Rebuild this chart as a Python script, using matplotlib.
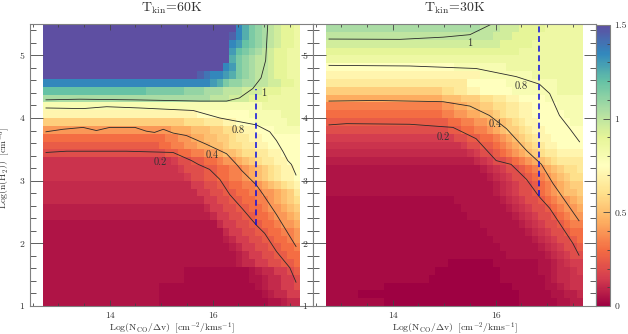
import matplotlib
matplotlib.use('Agg')
import matplotlib.pyplot as plt
from matplotlib.ticker import MultipleLocator
import numpy as np

plt.rcParams['font.family'] = 'cmr10'
plt.rcParams['mathtext.fontset'] = 'cm'
plt.rcParams['axes.unicode_minus'] = False

# One string per row, top row first. Each character is one cell, read from the colours:
# 0-9 a-u are steps of 0.05, A B C are the in-between values at the dark red end.
rows_60K = [
	"u"*30 + "rpnmlkjiih",
	"u"*29 + "trpnmlkjiih",
	"u"*29 + "rqonmlkjiih",
	"u"*29 + "qonmlkjiihh",
	"u"*29 + "pnmlkkjiihh",
	"u"*28 + "rqnmlkkjiihh",
	"u"*24 + "tsrrqpnmlkkjiihh",
	"r"*26 + "qpnmmllkkjjiih",
	"o"*16 + "n"*6 + "mmmlllkkkjjjiiihhh",
	"l"*26 + "kkkjjjiiihhhhh",
	"g"*34 + "h"*6,
	"e"*24 + "f"*8 + "g"*5 + "h"*3,
	"b"*22 + "cccdddeefffggggghh",
	"8"*20 + "999aaabbccdeefffgggg",
	"6"*18 + "6778899aabbcddeeffffff",
	"5"*17 + "566778899aabccddeefffff",
	"4"*18 + "4556677889aabccddeefff",
	"C"*20 + "34455667889abcddeeff",
	"C"*21 + "344455667789abcdeef",
	"C"*22 + "34455667789abcdeef",
	"2"*23 + "33445566778" + "9abcde",
	"2"*24 + "3344556677889abd",
	"2"*25 + "334455667789abc",
	"B"*25 + "2" + "33445566788" + "9ab",
	"B"*26 + "2" + "3344556678" + "89a",
	"1"*27 + "2" + "334455667889",
	"1"*28 + "2" + "33445566778",
	"1"*28 + "B2" + "3344556678",
	"1"*29 + "B2" + "334455667",
	"1"*30 + "B2" + "33445566",
	"1"*30 + "B2" + "23344556",
	"1"*22 + "A"*10 + "1B223345",
	"1"*22 + "A"*10 + "11B22334",
	"1"*18 + "A"*15 + "1B22334",
	"1"*18 + "A"*16 + "1B2233",
	"1"*18 + "A"*17 + "11B22",
]

rows_30K = [
	"l"*24 + "kkkjjjiiiihhhhhh",
	"k"*26 + "jjjiiiihhhhhhh",
	"j"*27 + "iiiiihhhhhhhh",
	"i"*30 + "h"*10,
	"h"*40,
	"f"*20 + "g"*8 + "h"*12,
	"e"*24 + "g"*8 + "h"*8,
	"d"*22 + "f"*6 + "g"*8 + "h"*4,
	"b"*18 + "ccddeefffff" + "g"*7 + "hhhh",
	"9"*18 + "aaabbbccddeeffffgggggg",
	"7"*18 + "8899aabbccddeeffffgggg",
	"6"*18 + "778899aabcddeefffffggg",
	"5"*19 + "667788" + "9aabcdeefffffgg",
	"4"*19 + "5566778" + "9abbcdeeffffff",
	"3"*20 + "44556678" + "9abcdeefffff",
	"C"*21 + "3445567" + "89abcdeeffff",
	"2"*22 + "C34456789abcddeeee",
	"B"*23 + "2C34456789abcdddd",
	"1"*24 + "B2C344567" + "89abccd",
	"1"*25 + "B2C34456789abcc",
	"1"*25 + "1B2C344567" + "89abb",
	"1"*26 + "B2C344567" + "89aab",
	"A"*20 + "1"*7 + "B2C344567889a",
	"A"*21 + "1"*7 + "B2C344567889",
	"A"*22 + "1"*7 + "B2C34456788",
	"A"*24 + "1"*6 + "B2C3445677",
	"A"*25 + "1"*6 + "B2C344566",
	"A"*26 + "1"*6 + "B2C34456",
	"A"*27 + "1"*6 + "B2C3445",
	"A"*28 + "1"*5 + "1B2C344",
	"A"*19 + "0"*7 + "A"*7 + "11B2C33",
	"A"*17 + "0"*10 + "A"*6 + "11B22C3",
	"A"*16 + "0"*11 + "A"*7 + "1B22CC",
	"A"*9 + "0"*20 + "A"*5 + "11B2CC",
	"A"*5 + "0"*25 + "A"*5 + "11BB2",
	"A"*9 + "0"*21 + "A"*6 + "11BB",
]

# contours, (logN, logn) pairs
c60_1 = [(12.76,4.29),(13.42,4.30),(14.45,4.29),(15.75,4.27),(16.27,4.27),(16.52,4.32),(16.78,4.47),(16.94,4.64),(17.03,4.92),(17.07,5.49)]
c60_08 = [(12.76,4.16),(13.48,4.15),(13.94,4.18),(14.58,4.16),(15.62,4.12),(16.14,4.00),(16.85,3.89),(17.11,3.78),(17.24,3.64),(17.37,3.46),(17.46,3.32),(17.53,3.26),(17.62,3.09)]
c60_04 = [(12.76,3.78),(13.09,3.82),(13.48,3.85),(13.74,3.80),(14.00,3.85),(14.49,3.85),(14.71,3.79),(14.87,3.77),(15.04,3.82),(15.23,3.76),(15.49,3.72),(15.88,3.58),(16.27,3.43),(16.47,3.255),(16.56,3.165),(16.85,2.93),(16.98,2.78),(17.24,2.46),(17.62,1.95)]
c60_02 = [(12.76,3.45),(13.16,3.47),(14.32,3.47),(15.23,3.45),(15.59,3.32),(15.72,3.26),(15.94,3.18),(16.14,3.02),(16.33,2.78),(16.59,2.54),(16.85,2.29),(17.01,2.16),(17.24,1.87),(17.50,1.61),(17.62,1.38)]

c30_1 = [(12.76,5.26),(14.14,5.255),(14.98,5.29),(15.50,5.33),(15.75,5.43),(15.90,5.49)]
c30_08 = [(12.76,4.84),(14.33,4.83),(15.62,4.79),(16.40,4.66),(16.85,4.54),(17.05,4.39),(17.24,4.04),(17.44,3.83),(17.63,3.62)]
c30_04 = [(12.76,4.27),(13.68,4.28),(14.98,4.26),(15.50,4.19),(15.88,4.04),(16.21,3.83),(16.60,3.48),(16.89,3.26),(17.11,2.96),(17.62,2.36)]
c30_02 = [(12.76,3.89),(13.10,3.91),(14.33,3.90),(15.17,3.85),(15.62,3.67),(16.01,3.32),(16.30,3.26),(16.60,3.02),(16.84,2.75),(17.05,2.56),(17.50,2.00),(17.62,1.81)]

# dashed line: x, y start, y end
dash_60K = (16.85, 2.29, 4.47)
dash_30K = (16.85, 2.75, 5.5)

labels_60K = [("1",16.99,4.39),("0.8",16.49,3.80),("0.4",15.99,3.40),("0.2",14.99,3.30)]
labels_30K = [("1",15.50,5.20),("0.8",16.49,4.50),("0.4",15.99,3.90),("0.2",14.99,3.70)]

WIDTH, HEIGHT = 628.0, 334.0
TEXT = '#333333'
FRAME = '#808080'


def rows_to_grid(rows) :
	alphabet = "0123456789abcdefghijklmnopqrstu"
	extra = {'A':0.025, 'B':0.075, 'C':0.125}
	grid = []
	for row in rows :
		assert len(row) == 40, row
		grid.append([extra[c] if c in extra else alphabet.index(c)*0.05 for c in row])
	return np.array(grid)[::-1]


def px_axes(left, right, top=24, bottom=306) :
	return [left/WIDTH, 1-bottom/HEIGHT, (right-left)/WIDTH, (bottom-top)/HEIGHT]


def draw_panel(ax, rows, contours, dash, labels, title) :
	xEdges = 12.7 + 0.125*np.arange(41)
	yEdges = 1.0 + 0.125*np.arange(37)
	mesh = ax.pcolormesh(xEdges, yEdges, rows_to_grid(rows), cmap='Spectral', vmin=0, vmax=1.5, linewidth=0, rasterized=True)

	for line in contours :
		line = np.array(line)
		ax.plot(line[:,0], line[:,1], color='#2a2a2a', lw=0.6)
	ax.plot([dash[0], dash[0]], [dash[1], dash[2]], color='#0a0ae0', lw=1.1, dashes=(3.9, 2.4))
	for (text, x, y) in labels :
		ax.text(x, y, text, fontsize=7.5, color=TEXT, ha='center', va='center')

	ax.set_xlim(12.45, 17.95)
	ax.set_ylim(1, 5.5)
	ax.xaxis.set_major_locator(MultipleLocator(2))
	ax.xaxis.set_minor_locator(MultipleLocator(0.5))
	ax.yaxis.set_major_locator(MultipleLocator(1))
	ax.yaxis.set_minor_locator(MultipleLocator(0.2))
	ax.tick_params(axis='x', which='major', direction='in', top=True, length=4.5, width=0.6, color='#444444', labelsize=7, labelcolor=TEXT, pad=4)
	ax.tick_params(axis='x', which='minor', direction='in', top=True, length=2.3, width=0.6, color='#444444')
	ax.tick_params(axis='y', which='major', direction='in', right=True, length=9, width=0.6, color='#444444', labelsize=7, labelcolor=TEXT, pad=4)
	ax.tick_params(axis='y', which='minor', direction='in', right=True, length=4, width=0.6, color='#444444')
	ax.set_xticks([14, 16])
	ax.set_xticklabels(['14', '16'])
	ax.set_yticks([1, 2, 3, 4, 5])
	ax.set_yticklabels(['1', '2', '3', '4', '5'])
	for spine in ax.spines.values() :
		spine.set_color(FRAME)
		spine.set_linewidth(0.8)
	ax.set_xlabel(r'$\mathrm{Log(N_{CO}/\Delta v)\ \ [cm^{-2}/kms^{-1}]}$', fontsize=7, color=TEXT, labelpad=0)
	ax.set_title(title, fontsize=10, color=TEXT, pad=9)
	return mesh


fig = plt.figure(figsize=(6.28, 3.34), dpi=100)

axLeft = fig.add_axes(px_axes(30, 313))
axRight = fig.add_axes(px_axes(313, 596))
axBar = fig.add_axes(px_axes(596, 610, top=25))

draw_panel(axLeft, rows_60K, [c60_1, c60_08, c60_04, c60_02], dash_60K, labels_60K, r'$\mathrm{T_{kin}}$=60K')
mesh = draw_panel(axRight, rows_30K, [c30_1, c30_08, c30_04, c30_02], dash_30K, labels_30K, r'$\mathrm{T_{kin}}$=30K')
axLeft.set_ylabel(r'$\mathrm{Log(n(H_2))\ \ [cm^{-3}]}$', fontsize=7, color=TEXT, labelpad=0)
axLeft.yaxis.set_label_coords(-0.064, 0.49)

bar = fig.colorbar(mesh, cax=axBar)
bar.set_ticks([0, 0.5, 1, 1.5])
bar.set_ticklabels(['0', '0.5', '1', '1.5'])
axBar.yaxis.set_minor_locator(MultipleLocator(0.1))
axBar.tick_params(which='major', direction='in', length=5, width=0.6, color='#444444', labelsize=7, labelcolor=TEXT, pad=3)
axBar.tick_params(which='minor', direction='in', length=2.3, width=0.6, color='#444444')
bar.outline.set_edgecolor(FRAME)
bar.outline.set_linewidth(0.8)

fig.savefig('out.png', dpi=100)
